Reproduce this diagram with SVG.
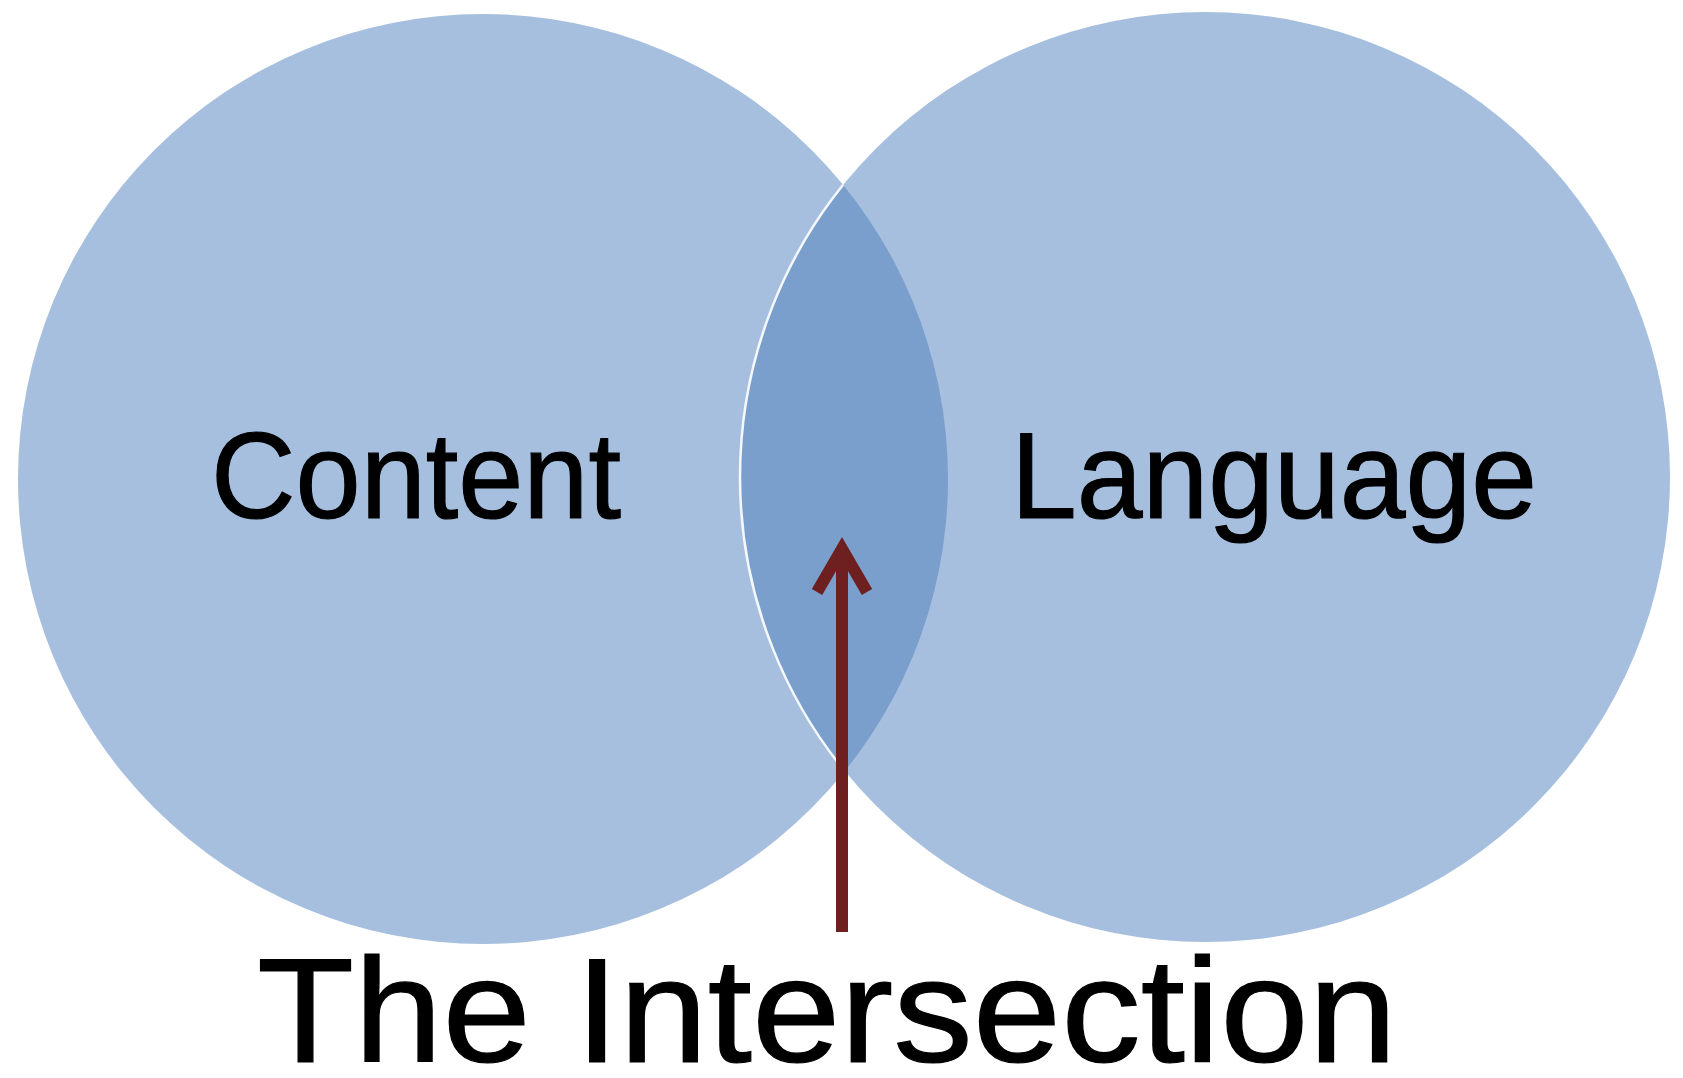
<svg xmlns="http://www.w3.org/2000/svg" width="1683" height="1078" viewBox="0 0 1683 1078">
  <style>
    .set { fill: #a7bfde; }
    .lens { fill: #7b9fcc; }
    .label { font-family: "Liberation Sans", Arial, sans-serif; fill: #000; stroke: #000; stroke-width: 1.2; text-anchor: middle; }
    .conn { stroke: #6e2020; stroke-width: 12; fill: none; }
  </style>
  <defs>
    <clipPath id="clipLeft">
      <circle cx="483" cy="479" r="465"/>
    </clipPath>
  </defs>
  <rect width="1683" height="1078" fill="#ffffff"/>

  <g id="node-content">
    <circle class="set" cx="483" cy="479" r="465"/>
  </g>

  <g id="node-language">
    <circle class="set" cx="1205" cy="477" r="465"/>
  </g>

  <!-- overlap of the two sets, with the light rim of the right circle -->
  <g id="node-overlap">
    <circle class="lens" cx="1205" cy="477" r="465" clip-path="url(#clipLeft)"/>
    <circle cx="1205" cy="477" r="465" fill="none" stroke="#f4f8fc" stroke-width="2.5" clip-path="url(#clipLeft)"/>
  </g>

  <g id="labels">
    <text class="label" x="416" y="518" font-size="122" textLength="410" lengthAdjust="spacingAndGlyphs">Content</text>
    <text class="label" x="1274" y="518" font-size="122" textLength="526" lengthAdjust="spacingAndGlyphs">Language</text>
    <text class="label" x="827" y="1062" font-size="148" textLength="1140" lengthAdjust="spacingAndGlyphs">The Intersection</text>
  </g>

  <g id="connectors">
    <line class="conn" x1="842" y1="932" x2="842" y2="550"/>
    <polyline class="conn" points="817,592 842,549 867,592" stroke-linejoin="miter"/>
  </g>
</svg>
